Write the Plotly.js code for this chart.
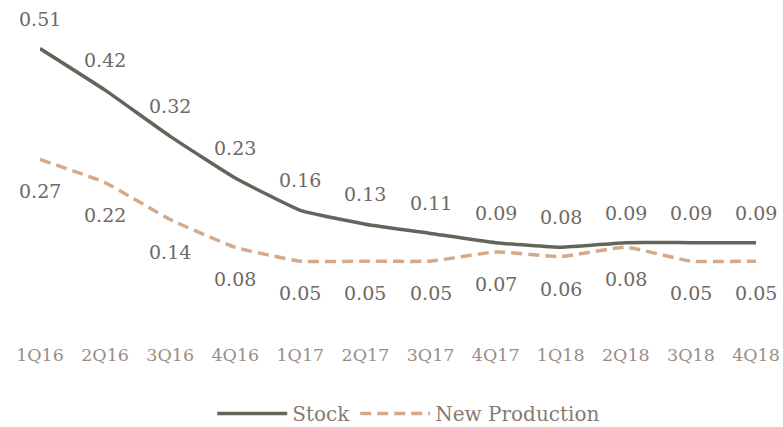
<!DOCTYPE html>
<html><head><meta charset="utf-8">
<script src="https://cdn.plot.ly/plotly-3.0.1.min.js"></script>
<style>html,body{margin:0;padding:0;background:#fff}#c{width:783px;height:427px}</style>
</head><body><div id="c"></div>
<script>
const quarters = ["1Q16","2Q16","3Q16","4Q16","1Q17","2Q17","3Q17","4Q17","1Q18","2Q18","3Q18","4Q18"];
const stock = [0.51,0.42,0.32,0.23,0.16,0.13,0.11,0.09,0.08,0.09,0.09,0.09];
const newProduction = [0.27,0.22,0.14,0.08,0.05,0.05,0.05,0.07,0.06,0.08,0.05,0.05];

const FONT = "DejaVu Serif";
const labelColor = "#6e6962";
const traces = [
  {x: quarters, y: stock, name: "Stock", type: "scatter", mode: "lines",
   line: {color: "#63655a", width: 3.5, shape: "spline", smoothing: 0.4}, hoverinfo: "skip"},
  {x: quarters, y: newProduction, name: "New Production", type: "scatter", mode: "lines",
   line: {color: "#d4aa8b", width: 3.5, dash: "11px,6px", shape: "spline", smoothing: 0.4}, hoverinfo: "skip"}
];
const annotations = [];
quarters.forEach((q, i) => {
  annotations.push({x: q, y: stock[i], text: stock[i].toFixed(2), showarrow: false, yshift: 30,
    font: {family: FONT, size: 19, color: labelColor}});
  annotations.push({x: q, y: newProduction[i], text: newProduction[i].toFixed(2), showarrow: false, yshift: -32,
    font: {family: FONT, size: 19, color: labelColor}});
});
const layout = {
  width: 783, height: 427,
  margin: {l: 40, r: 27, t: 7, b: 85, autoexpand: false},
  paper_bgcolor: "#fff", plot_bgcolor: "#fff",
  font: {family: FONT},
  showlegend: true,
  legend: {orientation: "h", x: 0.515, xanchor: "center", y: -0.155, yanchor: "top",
    font: {family: FONT, size: 20, color: "#857a73"}, itemwidth: 70, tracegroupgap: 0},
  xaxis: {type: "category", range: [0, 11], showgrid: false, zeroline: false, showline: false,
    ticks: "", tickfont: {family: FONT, size: 17.5, color: "#9a8d85"}, fixedrange: true},
  yaxis: {range: [-0.125, 0.6], showgrid: false, zeroline: false, showline: false,
    showticklabels: false, ticks: "", fixedrange: true},
  annotations: annotations
};
Plotly.newPlot("c", traces, layout, {displayModeBar: false, staticPlot: true});
</script></body></html>
